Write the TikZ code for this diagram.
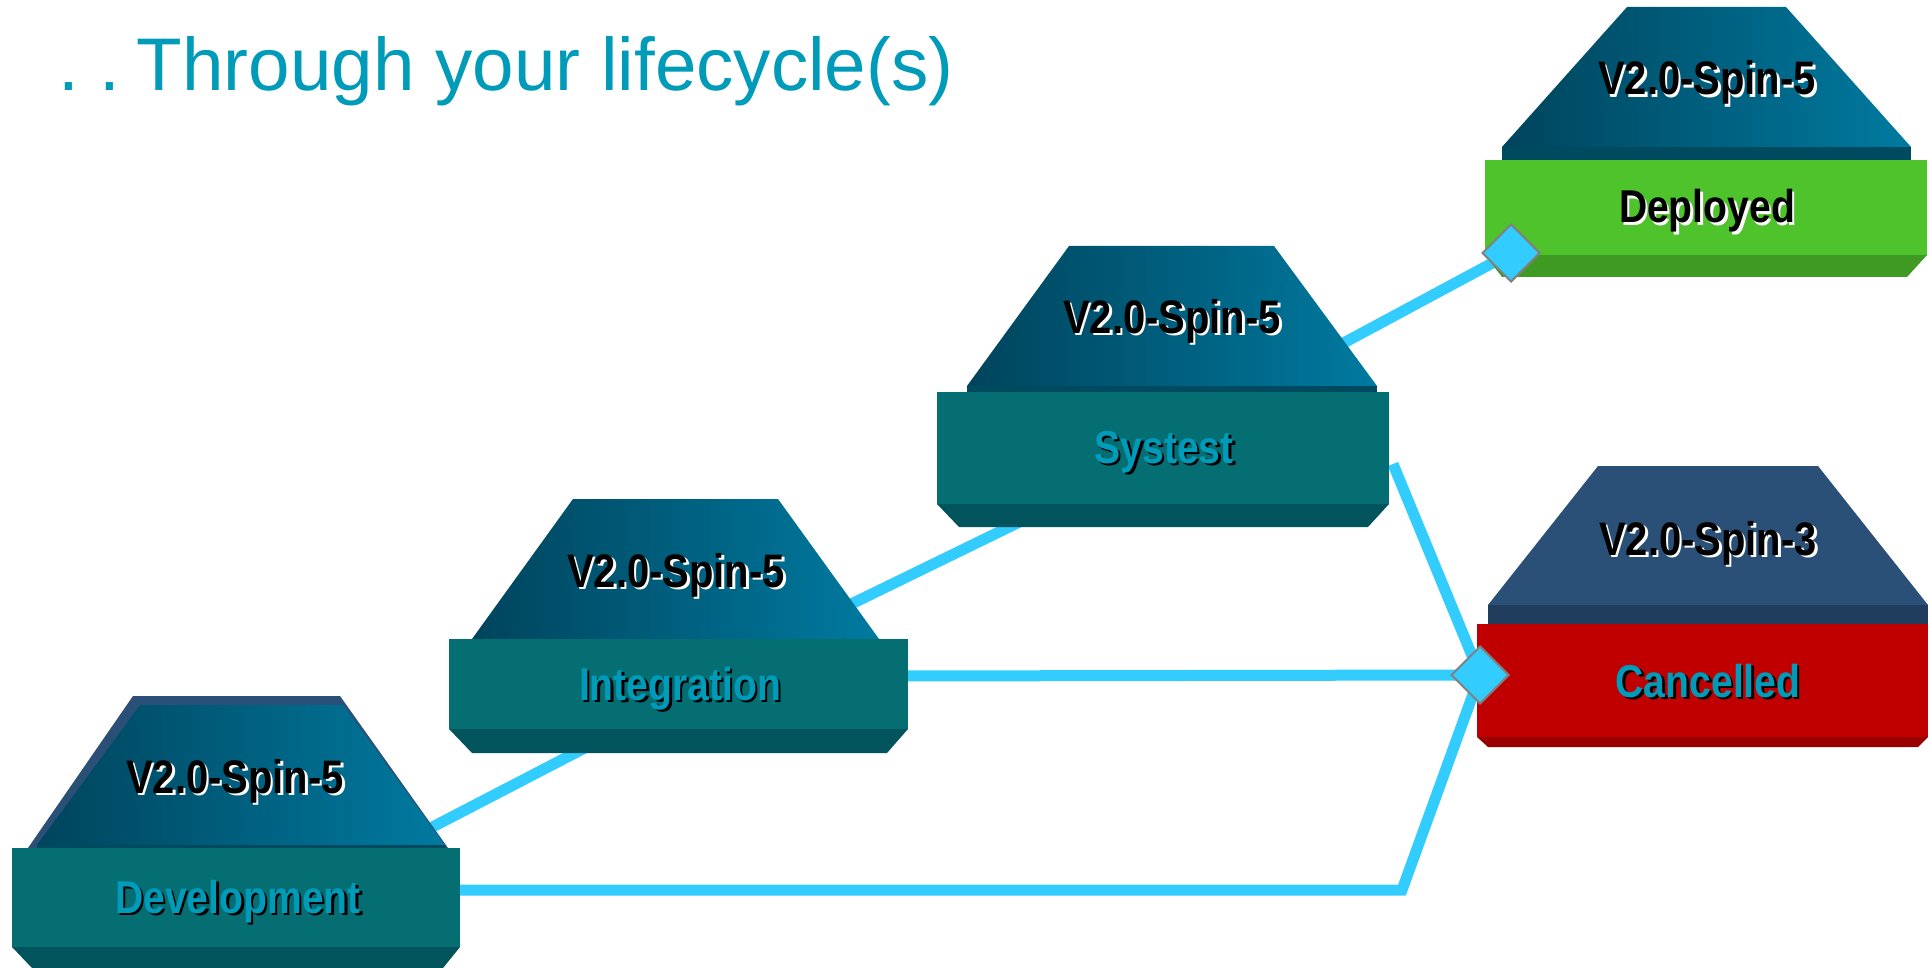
\documentclass[tikz,border=0pt]{standalone}
\usepackage{fontspec}
\setmainfont{Liberation Sans}
\newfontfamily\narrowfont[FakeStretch=0.85]{Liberation Sans}
\usetikzlibrary{shapes.geometric,backgrounds}

\definecolor{titleblue}{RGB}{0,155,185}
\definecolor{trayleft}{RGB}{0,68,92}
\definecolor{trayright}{RGB}{0,122,160}
\definecolor{traystrip}{RGB}{0,74,96}
\definecolor{navytray}{RGB}{43,80,119}
\definecolor{navystrip}{RGB}{33,61,94}
\definecolor{tealface}{RGB}{4,110,115}
\definecolor{tealbevel}{RGB}{2,84,92}
\definecolor{greenface}{RGB}{79,195,43}
\definecolor{greenbevel}{RGB}{62,154,34}
\definecolor{redface}{RGB}{192,0,0}
\definecolor{redbevel}{RGB}{153,0,0}
\definecolor{linkblue}{RGB}{51,204,255}
\definecolor{jointedge}{RGB}{128,128,128}

% text with a drop shadow: #1 text colour, #2 shadow colour
\newcommand{\shadowtext}[3]{\makebox[0pt][l]{\hspace*{2.5pt}\raisebox{-2.5pt}{\color{#2}#3}}{\color{#1}#3}}

\tikzset{
  titletext/.style={anchor=base west, inner sep=0pt, text=titleblue, font=\fontsize{74.6}{75}\selectfont},
  spin/.style={anchor=base, inner sep=0pt, font=\narrowfont\bfseries\fontsize{47}{47}\selectfont},
  stage/.style={anchor=base, inner sep=0pt, font=\narrowfont\bfseries\fontsize{46}{46}\selectfont},
  tray/.style={left color=trayleft, right color=trayright},
  link/.style={draw=linkblue, line width=11pt},
  joint/.style={diamond, draw=jointedge, line width=2pt, fill=linkblue, minimum width=58pt, minimum height=58pt, inner sep=0pt}
}

\begin{document}
\begin{tikzpicture}[x=1pt, y=-1pt]
    \useasboundingbox (0,0) rectangle (1930,968);

    \node[titletext] (title) at (58,91) {.\ .\hspace{0.22em}Through your lifecycle(s)};

    % trays on top of the stages
    \fill[navytray] (133,696) -- (340,696) -- (448,848) -- (28,848) -- cycle;
    \foreach \lt/\rt/\tt/\lb/\rb/\tb/\sb in {140/343/705/37/445/845/848, 573/778/499/472/879/639/639,
        1069/1274/246/967/1377/386/392, 1627/1786/7/1502/1911/147/160} {
        \shade[tray] (\lt,\tt) -- (\rt,\tt) -- (\rb,\tb) -- (\lb,\tb) -- cycle;
        \fill[traystrip] (\lb,\tb) rectangle (\rb,\sb);
    }
    \fill[navytray] (1598,466) -- (1818,466) -- (1928,605) -- (1488,605) -- cycle;
    \fill[navystrip] (1488,605) rectangle (1928,624);

    % stage boxes
    \foreach \l/\r/\t/\m/\b/\bl/\br/\fc/\bc in {12/460/848/947/968/32/443/tealface/tealbevel,
        449/908/639/729/753/472/887/tealface/tealbevel, 937/1389/392/504/527/959/1368/tealface/tealbevel,
        1485/1927/160/255/277/1502/1907/greenface/greenbevel, 1477/1928/624/737/747/1488/1918/redface/redbevel} {
        \fill[\bc] (\l,\m) -- (\r,\m) -- (\br,\b) -- (\bl,\b) -- cycle;
        \fill[\fc] (\l,\t) rectangle (\r,\m);
    }

    \node[spin] (devspin) at (235,793) {\shadowtext{black}{white}{V2.0-Spin-5}};
    \node[stage] (devstage) at (238,913) {\shadowtext{titleblue}{black}{Development}};
    \node[spin] (intspin) at (676,587) {\shadowtext{black}{white}{V2.0-Spin-5}};
    \node[stage] (intstage) at (680,700) {\shadowtext{titleblue}{black}{Integration}};
    \node[spin] (sysspin) at (1172,333) {\shadowtext{black}{white}{V2.0-Spin-5}};
    \node[stage] (sysstage) at (1164,463) {\shadowtext{titleblue}{black}{Systest}};
    \node[spin] (depspin) at (1707,95) {\shadowtext{black}{white}{V2.0-Spin-5}};
    \node[stage] (depstage) at (1707,223) {\shadowtext{black}{white}{Deployed}};
    \node[spin] (canspin) at (1708,555) {\shadowtext{black}{white}{V2.0-Spin-3}};
    \node[stage] (canstage) at (1708,697) {\shadowtext{titleblue}{black}{Cancelled}};

    \node[joint] (depjoint) at (1511,253) {};
    \node[joint] (canjoint) at (1480,675) {};

    % links behind everything
    \begin{scope}[on background layer]
        \coordinate (devlink) at (236,929);
        \coordinate (intlow) at (679,699);
        \coordinate (intlink) at (679,688);
        \coordinate (syslow) at (1163,452);
        \coordinate (syslink) at (1163,440);
        \coordinate (intright) at (890,676);
        \coordinate (sysright) at (1393,464);
        \coordinate (devright) at (440,890);
        \coordinate (devbend) at (1402,890);

        \draw[link] (devlink) -- (intlow);
        \draw[link] (intlink) -- (syslow);
        \draw[link] (syslink) -- (depjoint.center);
        \draw[link] (intright) -- (canjoint.center);
        \draw[link] (sysright) -- (canjoint.center);
        \draw[link] (devright) -- (devbend) -- (canjoint.center);
    \end{scope}
\end{tikzpicture}
\end{document}
